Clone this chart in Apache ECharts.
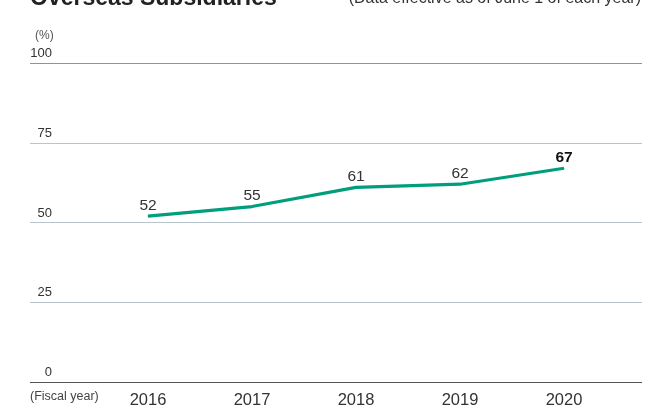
<!DOCTYPE html>
<html>
<head>
<meta charset="utf-8">
<script src="https://cdn.jsdelivr.net/npm/echarts@6/dist/echarts.min.js"></script>
<style>
  html, body { margin: 0; padding: 0; background: #fff; }
  #chart { width: 656px; height: 409px; }
</style>
</head>
<body>
<div id="chart"></div>
<script>
// data
const years = ['2016', '2017', '2018', '2019', '2020'];
const ratio = [52, 55, 61, 62, 67];
const yTicks = [0, 25, 50, 75, 100];

const FONT = '"Liberation Sans", Arial, Helvetica, sans-serif';
const chart = echarts.init(document.getElementById('chart'));

// gridline colours: bottom dark, middle light blue-grey, top grey
const splitColors = ['#555555', '#b7c4cb', '#b7c4cb', '#b7c4cb', '#8d949b'];

chart.setOption({
  animation: false,
  textStyle: { fontFamily: FONT },
  grid: [
    // 背景网格（全宽）
    { left: 30, right: 14, top: 63, bottom: 27 },
    // 数据区
    { left: 96, right: 40, top: 63, bottom: 27 }
  ],
  xAxis: [
    { gridIndex: 0, type: 'category', data: years, show: false },
    {
      gridIndex: 1,
      type: 'category',
      data: years,
      boundaryGap: true,
      axisLine: { show: false },
      axisTick: { show: false },
      axisLabel: { color: '#333', fontSize: 16.5, margin: 10, fontFamily: FONT }
    }
  ],
  yAxis: [
    {
      gridIndex: 0,
      type: 'value',
      min: yTicks[0],
      max: yTicks[yTicks.length - 1],
      interval: 25,
      axisLine: { show: false },
      axisTick: { show: false },
      axisLabel: {
        inside: true,
        margin: 22,
        align: 'right',
        verticalAlign: 'bottom',
        padding: [0, 0, 3, 0],
        color: '#333',
        fontSize: 13,
        fontFamily: FONT
      },
      splitLine: { lineStyle: { color: splitColors, width: 1.2 } }
    },
    { gridIndex: 1, type: 'value', min: 0, max: 100, show: false }
  ],
  series: [{
    type: 'line',
    xAxisIndex: 1,
    yAxisIndex: 1,
    data: ratio.map((v, i) => ({
      value: v,
      label: i === ratio.length - 1 ? { fontWeight: 'bold', color: '#111' } : {}
    })),
    symbol: 'circle',
    symbolSize: 1,
    showSymbol: true,
    itemStyle: { color: '#009e7d' },
    lineStyle: { color: '#009e7d', width: 3.2 },
    label: {
      show: true,
      position: 'top',
      distance: 2,
      color: '#333',
      fontSize: 15.5,
      fontFamily: FONT
    }
  }],
  graphic: [
    {
      type: 'text', left: 30, top: -13,
      style: { text: 'Overseas Subsidiaries', fill: '#222', font: 'bold 23px ' + FONT }
    },
    {
      type: 'text', right: 15, top: -9,
      style: { text: '(Data effective as of June 1 of each year)', fill: '#333', font: '16px ' + FONT }
    },
    {
      type: 'text', left: 35, top: 30,
      style: { text: '(%)', fill: '#555', font: '12px ' + FONT }
    },
    {
      type: 'text', left: 30, top: 390,
      style: { text: '(Fiscal year)', fill: '#444', font: '12.5px ' + FONT }
    }
  ]
});
</script>
</body>
</html>
